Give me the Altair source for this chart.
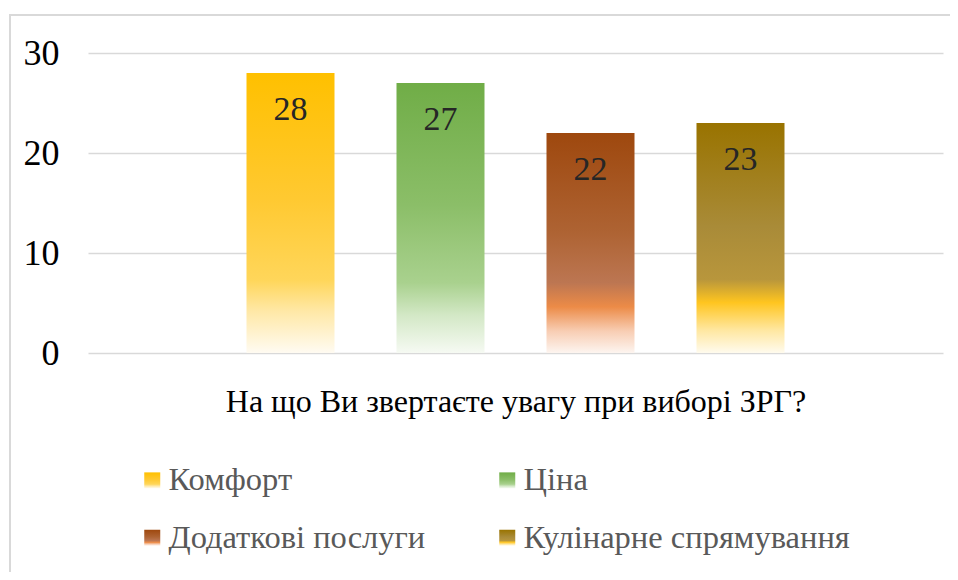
import altair as alt
import pandas as pd

categories = ["Комфорт", "Ціна", "Додаткові послуги", "Кулінарне спрямування"]
values = [28, 27, 22, 23]
axis_title = "На що Ви звертаєте увагу при виборі ЗРГ?"
y_ticks = [0, 10, 20, 30]

# gradient stops (offset, colour) per series, top -> bottom
stops = [
    [(0, "#FFC000"), (0.45, "#FFC931"), (0.74, "#FFD65A"), (0.85, "#FFE8A6"), (1, "#FFFBF2")],
    [(0, "#70AD47"), (0.45, "#8BBE68"), (0.74, "#A9D18E"), (0.86, "#D3E8C6"), (1, "#F6FAF3")],
    [(0, "#9E480E"), (0.45, "#AE6333"), (0.68, "#BC7652"), (0.79, "#EC8B47"), (0.9, "#F8CDB3"), (1, "#FDF5F0")],
    [(0, "#997300"), (0.45, "#A98B38"), (0.68, "#B8963C"), (0.78, "#FFC51F"), (0.9, "#FFE7A0"), (1, "#FFFBEE")],
]


def grad_expr(st):
    s = ",".join("{offset:%s,color:'%s'}" % (o, c) for o, c in st)
    return "{gradient:'linear',x1:0,y1:0,x2:0,y2:1,stops:[" + s + "]}"


df = pd.DataFrame({"cat": categories, "value": values})

FONT = "Liberation Serif"
# empty slots either side of the group give Excel's wide outer gaps
x_domain = [" "] + categories + ["  "]

x_enc = alt.X(
    "cat:N",
    scale=alt.Scale(domain=x_domain, paddingInner=0.4133, paddingOuter=0.0567),
    axis=alt.Axis(
        labels=False, ticks=False, domain=False, title=axis_title,
        titleFont=FONT, titleFontSize=32, titleFontWeight="normal",
        titleColor="#000000", titlePadding=33,
    ),
)

bars = alt.Chart(df).mark_bar().encode(
    x=x_enc,
    y=alt.Y(
        "value:Q",
        scale=alt.Scale(domain=[0, 30]),
        axis=alt.Axis(
            values=y_ticks, title=None, domain=False, ticks=False,
            labelFont=FONT, labelFontSize=36, labelColor="#000000",
            labelPadding=29, grid=True, gridColor="#D9D9D9", gridWidth=1.5,
        ),
    ),
    fill=alt.Fill(
        "cat:N",
        sort=categories,
        scale=alt.Scale(domain=categories, range=[alt.ExprRef(expr=grad_expr(s)) for s in stops]),
        legend=alt.Legend(
            title=None, orient="none", legendX=48, legendY=411, columns=2,
            direction="horizontal",
            symbolType="square", symbolSize=256, symbolStrokeWidth=0, symbolOpacity=1,
            labelFont=FONT, labelFontSize=32.5, labelColor="#595959",
            labelOffset=0, rowPadding=24.5, columnPadding=65, padding=0,
            labelLimit=500,
        ),
    ),
)

labels = alt.Chart(df).mark_text(
    baseline="middle", dy=37, font=FONT, fontSize=34, color="#262626"
).encode(x=alt.X("cat:N"), y="value:Q", text="value:Q")

frame = alt.Chart(alt.Data(values=[{}])).mark_rect(
    fill=None, stroke="#D9D9D9", strokeWidth=2
).encode(
    x=alt.value(-78), x2=alt.value(900),
    y=alt.value(-38), y2=alt.value(600),
)

chart = alt.layer(frame, bars, labels).properties(
    width=855, height=300,
    padding={"left": 80, "top": 45, "right": 7, "bottom": 219},
    autosize=alt.AutoSizeParams(type="none"),
).configure_view(stroke=None)

chart.save("out.html", embed_options={"renderer": "svg", "actions": False})
